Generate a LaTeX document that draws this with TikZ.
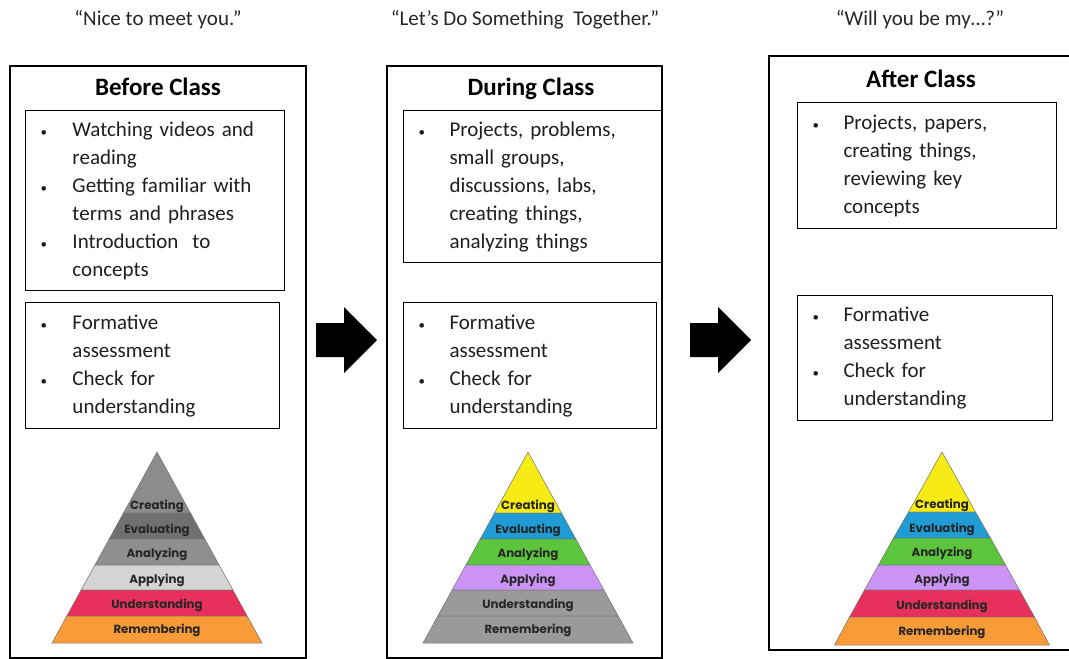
\documentclass[tikz,border=0pt]{standalone}
\usepackage{fontspec}
\setmainfont{Carlito}
\newfontfamily\pyrfont{Poppins}
\usepackage{xcolor}
\usetikzlibrary{positioning}

\definecolor{pyryellow}{HTML}{F6EB14}
\definecolor{pyrblue}{HTML}{1E9CD3}
\definecolor{pyrgreen}{HTML}{5CC53D}
\definecolor{pyrlilac}{HTML}{CB93F3}
\definecolor{pyrred}{HTML}{E8305C}
\definecolor{pyrorange}{HTML}{F89B38}
\definecolor{pyrgrayA}{HTML}{8C8C8C}
\definecolor{pyrgrayB}{HTML}{707070}
\definecolor{pyrgrayC}{HTML}{8F8F8F}
\definecolor{pyrgrayD}{HTML}{D4D4D4}
\definecolor{pyrgrayE}{HTML}{9A9A9A}

\newcommand{\bul}{{\fontsize{13}{13}\selectfont•}}

\tikzset{
  outerbox/.style={draw=black, line width=2pt},
  listbox/.style={draw=black, line width=1pt, anchor=north west, align=left,
    inner xsep=15pt, inner ysep=0pt, text=black!88,
    font=\fontsize{21}{28}\selectfont},
  boxtitle/.style={font=\fontsize{25}{28}\selectfont\bfseries, inner sep=0pt},
  quotetext/.style={font=\fontsize{21}{24}\selectfont, text=black!85, inner sep=0pt},
  band/.style={draw=black!55, line width=0.5pt},
  bandlabel/.style={font=\pyrfont\bfseries\fontsize{11.8}{13}\selectfont, text=black!85, inner sep=0pt},
  blockarrow/.style={fill=black},
}

\begin{document}
\begin{tikzpicture}[x=1pt, y=-1pt]
\useasboundingbox (0,0) rectangle (1069,659);

% quotes
\node[quotetext] (qbefore) at (158,20) {“Nice to meet you.”};
\node[quotetext] (qduring) at (525,20) {“Let’s Do Something~~Together.”};
\node[quotetext] (qafter) at (920,20) {“Will you be my…?”};

% outer boxes
\draw[outerbox] (10,66) rectangle (306,658);
\draw[outerbox] (387,66) rectangle (662,658);
\draw[outerbox] (769,56) rectangle (1072,650);

% titles
\node[boxtitle] (tbefore) at (158,87) {Before Class};
\node[boxtitle] (tduring) at (531,89) {During Class};
\node[boxtitle] (tafter) at (921,79) {After Class};

% before class
\node[listbox, text width=229pt, minimum height=180pt] (bactive) at (25,110) {%
  \begin{tabular}{@{}p{32pt}@{}l@{}}
  \bul & Watching videos and\\
    & reading\\
  \bul & Getting familiar with\\
    & terms and phrases\\
  \bul & Introduction~~to\\
    & concepts
  \end{tabular}};
\node[listbox, text width=224pt, minimum height=126pt] (bcheck) at (25,302) {%
  \begin{tabular}{@{}p{32pt}@{}l@{}}
  \bul & Formative\\
    & assessment\\
  \bul & Check for\\
    & understanding
  \end{tabular}};

% during class
\node[listbox, text width=228pt, minimum height=152pt] (dactive) at (403,110) {%
  \begin{tabular}{@{}p{31pt}@{}l@{}}
  \bul & Projects, problems,\\
    & small groups,\\
    & discussions, labs,\\
    & creating things,\\
    & analyzing things
  \end{tabular}};
\node[listbox, text width=223pt, minimum height=126pt] (dcheck) at (403,302) {%
  \begin{tabular}{@{}p{31pt}@{}l@{}}
  \bul & Formative\\
    & assessment\\
  \bul & Check for\\
    & understanding
  \end{tabular}};

% after class
\node[listbox, text width=229pt, minimum height=126pt] (aactive) at (797,102) {%
  \begin{tabular}{@{}p{31pt}@{}l@{}}
  \bul & Projects, papers,\\
    & creating things,\\
    & reviewing key\\
    & concepts
  \end{tabular}};
\node[listbox, text width=225pt, minimum height=125pt] (acheck) at (797,295) {%
  \begin{tabular}{@{}p{31pt}@{}l@{}}
  \bul & Formative\\
    & assessment\\
  \bul & Check for\\
    & understanding
  \end{tabular}};

% arrows between the phases
\fill[blockarrow] (316,323) -- (344,323) -- (344,307) -- (377,340) -- (344,373) -- (344,357) -- (316,357) -- cycle;
\fill[blockarrow] (690,323) -- (718,323) -- (718,307) -- (751,340) -- (718,373) -- (718,357) -- (690,357) -- cycle;

% pyramid before class
\begin{scope}[shift={(157,452)}]
  \filldraw[band, fill=pyrgrayA] (0,0) -- (33.5,61) -- (-33.5,61) -- cycle;
  \filldraw[band, fill=pyrgrayB] (-33.5,61) -- (33.5,61) -- (47.8,87) -- (-47.8,87) -- cycle;
  \filldraw[band, fill=pyrgrayC] (-47.8,87) -- (47.8,87) -- (62.1,113) -- (-62.1,113) -- cycle;
  \filldraw[band, fill=pyrgrayD] (-62.1,113) -- (62.1,113) -- (75.9,138) -- (-75.9,138) -- cycle;
  \filldraw[band, fill=pyrred] (-75.9,138) -- (75.9,138) -- (90.2,164) -- (-90.2,164) -- cycle;
  \filldraw[band, fill=pyrorange] (-90.2,164) -- (90.2,164) -- (105,191) -- (-105,191) -- cycle;
  \node[bandlabel] (bcreating) at (0,54) {Creating};
  \node[bandlabel] (bevaluating) at (0,78) {Evaluating};
  \node[bandlabel] (banalyzing) at (0,102) {Analyzing};
  \node[bandlabel] (bapplying) at (0,128) {Applying};
  \node[bandlabel] (bunderstanding) at (0,153) {Understanding};
  \node[bandlabel] (bremembering) at (0,178) {Remembering};
\end{scope}

% pyramid during class
\begin{scope}[shift={(528,452)}]
  \filldraw[band, fill=pyryellow] (0,0) -- (33.5,61) -- (-33.5,61) -- cycle;
  \filldraw[band, fill=pyrblue] (-33.5,61) -- (33.5,61) -- (47.8,87) -- (-47.8,87) -- cycle;
  \filldraw[band, fill=pyrgreen] (-47.8,87) -- (47.8,87) -- (62.1,113) -- (-62.1,113) -- cycle;
  \filldraw[band, fill=pyrlilac] (-62.1,113) -- (62.1,113) -- (75.9,138) -- (-75.9,138) -- cycle;
  \filldraw[band, fill=pyrgrayE] (-75.9,138) -- (75.9,138) -- (90.2,164) -- (-90.2,164) -- cycle;
  \filldraw[band, fill=pyrgrayE] (-90.2,164) -- (90.2,164) -- (105,191) -- (-105,191) -- cycle;
  \node[bandlabel] (dcreating) at (0,54) {Creating};
  \node[bandlabel] (devaluating) at (0,78) {Evaluating};
  \node[bandlabel] (danalyzing) at (0,102) {Analyzing};
  \node[bandlabel] (dapplying) at (0,128) {Applying};
  \node[bandlabel] (dunderstanding) at (0,153) {Understanding};
  \node[bandlabel] (dremembering) at (0,178) {Remembering};
\end{scope}

% pyramid after class
\begin{scope}[shift={(942,452)}]
  \filldraw[band, fill=pyryellow] (0,0) -- (33.5,60) -- (-33.5,60) -- cycle;
  \filldraw[band, fill=pyrblue] (-33.5,60) -- (33.5,60) -- (48.5,86) -- (-48.5,86) -- cycle;
  \filldraw[band, fill=pyrgreen] (-48.5,86) -- (48.5,86) -- (63.5,113) -- (-63.5,113) -- cycle;
  \filldraw[band, fill=pyrlilac] (-63.5,113) -- (63.5,113) -- (77.5,138) -- (-77.5,138) -- cycle;
  \filldraw[band, fill=pyrred] (-77.5,138) -- (77.5,138) -- (92.5,165) -- (-92.5,165) -- cycle;
  \filldraw[band, fill=pyrorange] (-92.5,165) -- (92.5,165) -- (107.5,193) -- (-107.5,193) -- cycle;
  \node[bandlabel] (acreating) at (0,53) {Creating};
  \node[bandlabel] (aevaluating) at (0,77) {Evaluating};
  \node[bandlabel] (aanalyzing) at (0,101) {Analyzing};
  \node[bandlabel] (aapplying) at (0,128) {Applying};
  \node[bandlabel] (aunderstanding) at (0,154) {Understanding};
  \node[bandlabel] (aremembering) at (0,180) {Remembering};
\end{scope}
\end{tikzpicture}
\end{document}
